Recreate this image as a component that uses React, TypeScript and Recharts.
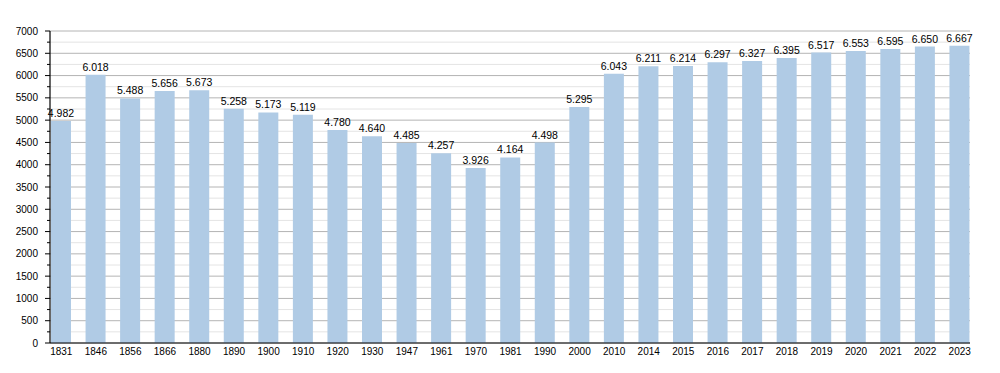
import React from 'react';
import { BarChart, Bar, XAxis, YAxis, CartesianGrid, LabelList } from 'recharts';

const years = ['1831','1846','1856','1866','1880','1890','1900','1910','1920','1930','1947','1961','1970','1981','1990','2000','2010','2014','2015','2016','2017','2018','2019','2020','2021','2022','2023'];
const population = [4982,6018,5488,5656,5673,5258,5173,5119,4780,4640,4485,4257,3926,4164,4498,5295,6043,6211,6214,6297,6327,6395,6517,6553,6595,6650,6667];
const yTicks = [0,250,500,750,1000,1250,1500,1750,2000,2250,2500,2750,3000,3250,3500,3750,4000,4250,4500,4750,5000,5250,5500,5750,6000,6250,6500,6750,7000];

const data = years.map((y, i) => ({ year: y, value: population[i] }));

const fmt = (v: number) => String(v).replace(/\B(?=(\d{3})+(?!\d))/g, '.');

const FONT = 'Liberation Sans, Arial, sans-serif';

const YTick = (props: any) => {
  const { x, y, payload } = props;
  const major = payload.value % 500 === 0;
  return (
    <g>
      <line x1={x - (major ? 5 : 3)} x2={x} y1={y} y2={y} stroke="#000" strokeWidth={1} />
      {major && (
        <text x={x - 12} y={y} textAnchor="end" dominantBaseline="central" fontSize={10} fontFamily={FONT} fill="#000">
          {payload.value}
        </text>
      )}
    </g>
  );
};

const GridLine = (props: any) => {
  const { x1, x2, y1, y2 } = props;
  const v = Math.round(((343 - y1) * 7000) / 312 / 250) * 250;
  const major = v % 500 === 0;
  return <line x1={x1} x2={x2} y1={y1} y2={y2} stroke={major ? '#b4b4b4' : '#e4e4e4'} strokeWidth={1} />;
};

export default function App() {
  return (
    <div style={{ position: 'absolute', left: 0, top: 0, width: 1000, height: 373, background: '#fff' }}>
      <BarChart width={1000} height={373} data={data} margin={{ top: 31, right: 30, bottom: 0, left: 0 }} barCategoryGap={0}>
        <CartesianGrid vertical={false} horizontal={(p: any) => <GridLine key={p.key} {...p} />} />
        <XAxis
          dataKey="year"
          height={30}
          interval={0}
          tickLine={false}
          tickSize={0}
          tickMargin={5}
          padding={{ left: -6, right: -7 }}
          axisLine={{ stroke: '#000', strokeWidth: 1.2 }}
          tick={{ fontSize: 10, fontFamily: FONT, fill: '#000' }}
        />
        <YAxis
          width={50}
          domain={[0, 7000]}
          ticks={yTicks}
          interval={0}
          tickLine={false}
          tickSize={0}
          tickMargin={0}
          axisLine={{ stroke: '#000', strokeWidth: 1.2 }}
          tick={<YTick />}
        />
        <Bar dataKey="value" fill="#b0cbe5" barSize={20} isAnimationActive={false}>
          <LabelList
            dataKey="value"
            position="top"
            offset={4}
            formatter={(v: any) => fmt(Number(v))}
            style={{ fontSize: 10.5, fontFamily: FONT, fill: '#000' }}
          />
        </Bar>
      </BarChart>
    </div>
  );
}
